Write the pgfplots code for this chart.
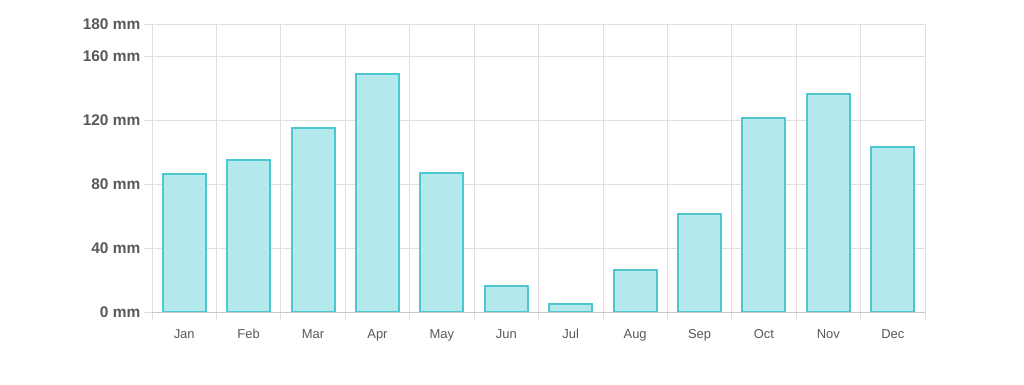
\documentclass[border=0pt]{standalone}
\usepackage{fontspec}
\setmainfont{Liberation Sans}
\usepackage{pgfplots}
\pgfplotsset{compat=1.18}
\definecolor{barfill}{RGB}{179,233,236}
\definecolor{barline}{RGB}{77,200,208}
\definecolor{gridc}{RGB}{224,224,224}
\definecolor{axisc}{RGB}{200,200,200}
\definecolor{txt}{RGB}{88,88,88}
\begin{document}
\begin{tikzpicture}[x=1bp,y=1bp]
\useasboundingbox (0,0) rectangle (1024,384);
\begin{axis}[
  at={(152bp,72bp)}, anchor=south west, scale only axis,
  width=773bp, height=288bp,
  xmin=-0.5, xmax=11.5, ymin=0, ymax=180,
  ybar, bar width=43bp,
  tick pos=left, tick align=outside,
  xtick={0,...,11},
  xticklabels={Jan,Feb,Mar,Apr,May,Jun,Jul,Aug,Sep,Oct,Nov,Dec},
  major x tick style={draw=none},
  minor xtick={-0.5,0.5,...,11.5},
  minor tick length=8bp,
  minor x tick style={gridc, line width=0.8bp},
  xminorgrids, minor x grid style={gridc, line width=0.8bp},
  ytick={0,40,80,120,160,180},
  major tick length=8bp,
  major y tick style={gridc, line width=0.8bp},
  ymajorgrids, major y grid style={gridc, line width=0.8bp},
  /pgf/number format/assume math mode=true,
  yticklabel={\pgfmathprintnumber{\tick} mm},
  yticklabel style={font=\bfseries\fontsize{15.5}{18}\selectfont, text=txt, inner xsep=3.5bp},
  xticklabel style={font=\fontsize{13}{15}\selectfont, text=txt, text height=10bp, text depth=3bp, yshift=-4.5bp},
  axis line style={gridc, line width=0.8bp},
]
\addplot[fill=barfill, draw=barline, line width=2bp] coordinates {
  (0,86) (1,95) (2,115) (3,149) (4,87) (5,16)
  (6,5) (7,26) (8,61) (9,121) (10,136) (11,103)
};
\draw[axisc, line width=0.9bp] (axis cs:-0.5,0) -- (axis cs:11.5,0);
\end{axis}
\end{tikzpicture}
\end{document}
